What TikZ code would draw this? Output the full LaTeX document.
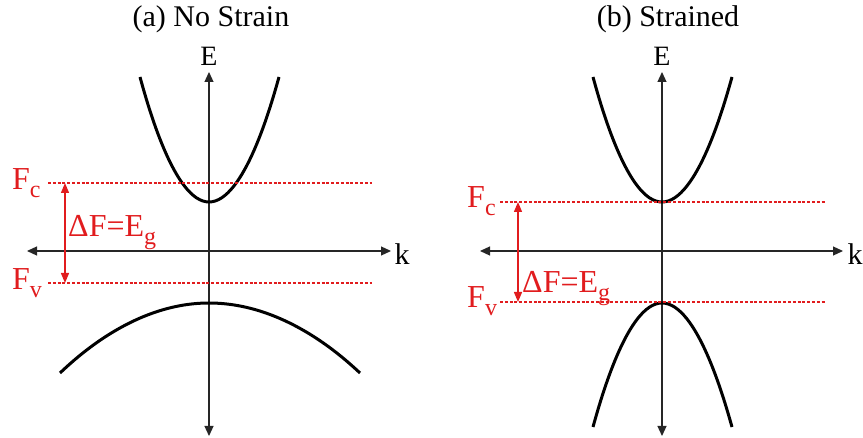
\documentclass[tikz,border=0pt]{standalone}
\usepackage{fontspec}
\setmainfont{Liberation Serif}
\usetikzlibrary{arrows.meta}
\definecolor{fermired}{RGB}{225,28,30}
\newcommand{\lowsub}[1]{\raisebox{-8pt}{\fontsize{24}{28}\selectfont #1}}
\tikzset{
  axis/.style={line width=1.2pt,black!85,{Triangle[length=10pt,width=9pt]}-{Triangle[length=10pt,width=9pt]}},
  band/.style={line width=3pt,black},
  fermi/.style={fermired,line width=1.3pt,dash pattern=on 3pt off 1.8pt},
  gap/.style={fermired,line width=1.3pt,{Triangle[length=10pt,width=8pt]}-{Triangle[length=10pt,width=8pt]}},
  txt/.style={font=\fontsize{30}{36}\selectfont,inner sep=0pt},
  redtxt/.style={txt,font=\fontsize{32}{38}\selectfont,text=fermired,anchor=base west}
}
\begin{document}
\begin{tikzpicture}[x=1pt,y=-1pt]
	\useasboundingbox (0,0) rectangle (863,438);
	\node[txt] (titleA) at (211,19) {(a) No Strain};
	\node[txt] (titleB) at (668,19) {(b) Strained};

	\coordinate (aTop) at (209,72);
	\coordinate (aBot) at (209,436);
	\coordinate (aLeft) at (27,251);
	\coordinate (aRight) at (391,251);
	\draw[axis] (aBot) -- (aTop);
	\draw[axis] (aLeft) -- (aRight);
	\node[txt,font=\fontsize{28}{34}\selectfont] (aE) at (209,56) {E};
	\node[txt] (aK) at (402,254) {k};
	\draw[band] (140,77) parabola bend (209,202) (279,77);
	\draw[band] (60,373) parabola bend (209,303) (360,373);
	\coordinate (aFcL) at (48,183);
	\coordinate (aFcR) at (372,183);
	\coordinate (aFvL) at (48,283);
	\coordinate (aFvR) at (372,283);
	\draw[fermi] (aFcL) -- (aFcR);
	\draw[fermi] (aFvL) -- (aFvR);
	\coordinate (aGapTop) at (65,183);
	\coordinate (aGapBot) at (65,283);
	\draw[gap] (aGapTop) -- (aGapBot);
	\node[redtxt] (aFc) at (12,190) {F\lowsub{c}};
	\node[redtxt] (aFv) at (12,290) {F\lowsub{v}};
	\node[redtxt] (aDF) at (68,237) {ΔF=E\lowsub{g}};

	\coordinate (bTop) at (662,72);
	\coordinate (bBot) at (662,436);
	\coordinate (bLeft) at (480,251);
	\coordinate (bRight) at (843,251);
	\draw[axis] (bBot) -- (bTop);
	\draw[axis] (bLeft) -- (bRight);
	\node[txt,font=\fontsize{28}{34}\selectfont] (bE) at (662,56) {E};
	\node[txt] (bK) at (855,254) {k};
	\draw[band] (593,77) parabola bend (662,202) (732,77);
	\draw[band] (593,427) parabola bend (662,303) (732,427);
	\coordinate (bFcL) at (500,202);
	\coordinate (bFcR) at (825,202);
	\coordinate (bFvL) at (500,302);
	\coordinate (bFvR) at (825,302);
	\draw[fermi] (bFcL) -- (bFcR);
	\draw[fermi] (bFvL) -- (bFvR);
	\coordinate (bGapTop) at (518,202);
	\coordinate (bGapBot) at (518,302);
	\draw[gap] (bGapTop) -- (bGapBot);
	\node[redtxt] (bFc) at (467,208) {F\lowsub{c}};
	\node[redtxt] (bFv) at (467,308) {F\lowsub{v}};
	\node[redtxt] (bDF) at (522,293) {ΔF=E\lowsub{g}};
\end{tikzpicture}
\end{document}
